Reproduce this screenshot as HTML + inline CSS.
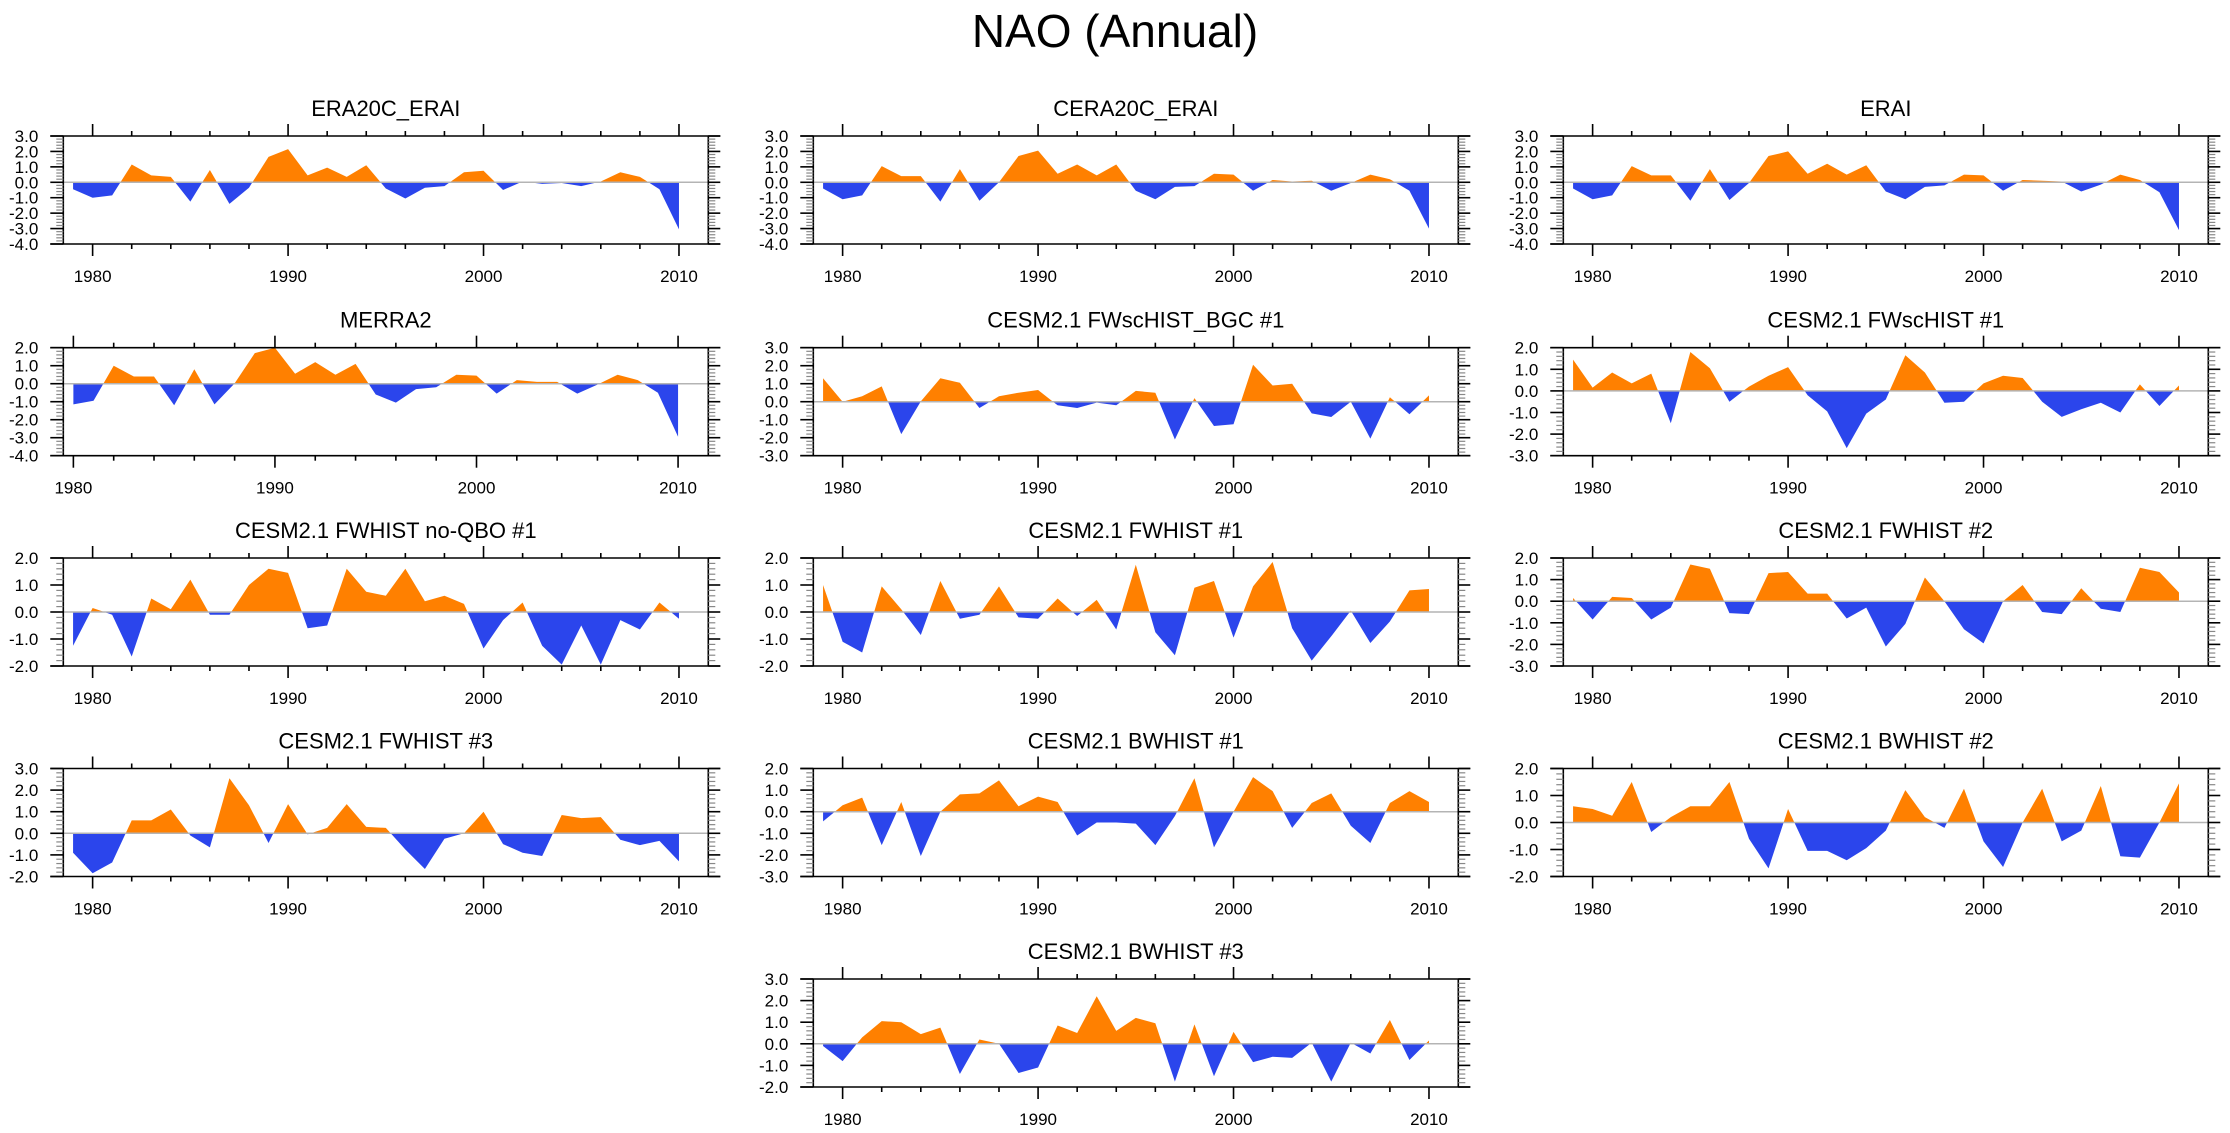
<!DOCTYPE html>
<html><head><meta charset="utf-8"><title>NAO (Annual)</title>
<style>
html,body{margin:0;padding:0;background:#fff;}
svg{display:block;font-family:"Liberation Sans",Arial,sans-serif;}
</style></head>
<body>
<svg id="chart" width="2230" height="1133" viewBox="0 0 2230 1133" xmlns="http://www.w3.org/2000/svg">
<rect x="0" y="0" width="2230" height="1133" fill="#fff"/>
<text x="1115" y="47" font-size="46" text-anchor="middle" fill="#000">NAO (Annual)</text>
</svg>
<script>
// ---- data ----
const xTickLabels = ["1980", "1990", "2000", "2010"];
const xTickYears = [1980, 1990, 2000, 2010];
const panelTitles = ["ERA20C_ERAI", "CERA20C_ERAI", "ERAI", "MERRA2", "CESM2.1 FWscHIST_BGC #1", "CESM2.1 FWscHIST #1", "CESM2.1 FWHIST no-QBO #1", "CESM2.1 FWHIST #1", "CESM2.1 FWHIST #2", "CESM2.1 FWHIST #3", "CESM2.1 BWHIST #1", "CESM2.1 BWHIST #2", "CESM2.1 BWHIST #3"];
const startYears = [1979, 1979, 1979, 1980, 1979, 1979, 1979, 1979, 1979, 1979, 1979, 1979, 1979];
const yMaxes = [3, 3, 3, 2, 3, 2, 2, 2, 2, 3, 2, 2, 3];
const yMins = [-4, -4, -4, -4, -3, -3, -2, -2, -3, -2, -3, -2, -2];
const era20cErai = [-0.45,-1.0,-0.85,1.15,0.45,0.35,-1.25,0.8,-1.4,-0.35,1.65,2.15,0.45,0.95,0.35,1.1,-0.4,-1.05,-0.35,-0.25,0.65,0.75,-0.5,0.05,-0.1,-0.05,-0.25,0.05,0.65,0.35,-0.45,-3.05];
const cera20cErai = [-0.4,-1.1,-0.85,1.05,0.4,0.4,-1.25,0.85,-1.2,0.0,1.7,2.05,0.55,1.15,0.45,1.15,-0.55,-1.1,-0.3,-0.25,0.55,0.5,-0.55,0.15,0.05,0.1,-0.55,-0.05,0.5,0.2,-0.55,-3.0];
const erai = [-0.4,-1.1,-0.85,1.05,0.45,0.45,-1.2,0.85,-1.15,-0.05,1.7,2.0,0.55,1.2,0.5,1.1,-0.6,-1.1,-0.3,-0.2,0.5,0.45,-0.55,0.15,0.1,0.05,-0.6,-0.15,0.5,0.15,-0.65,-3.1];
const merra2 = [-1.15,-0.95,1.0,0.4,0.4,-1.2,0.8,-1.15,0.02,1.7,2.0,0.55,1.2,0.5,1.1,-0.6,-1.05,-0.3,-0.2,0.5,0.45,-0.55,0.2,0.1,0.1,-0.55,-0.05,0.5,0.2,-0.5,-2.95];
const fwschistBgc1 = [1.3,0.0,0.3,0.85,-1.8,0.02,1.3,1.05,-0.35,0.3,0.5,0.65,-0.2,-0.35,-0.05,-0.2,0.6,0.5,-2.1,0.2,-1.35,-1.25,2.05,0.9,1.0,-0.65,-0.85,0.0,-2.05,0.25,-0.7,0.35];
const fwschist1 = [1.45,0.15,0.85,0.35,0.8,-1.5,1.8,1.05,-0.5,0.2,0.7,1.1,-0.2,-0.95,-2.65,-1.05,-0.4,1.65,0.85,-0.55,-0.5,0.35,0.7,0.6,-0.5,-1.2,-0.85,-0.55,-1.0,0.3,-0.7,0.25];
const fwhistNoQbo1 = [-1.25,0.15,-0.1,-1.65,0.5,0.1,1.2,-0.1,-0.1,1.0,1.6,1.45,-0.6,-0.5,1.6,0.75,0.6,1.6,0.4,0.6,0.3,-1.35,-0.3,0.35,-1.25,-1.95,-0.5,-1.95,-0.3,-0.65,0.35,-0.25];
const fwhist1 = [1.0,-1.1,-1.5,0.95,0.1,-0.85,1.15,-0.25,-0.1,0.95,-0.2,-0.25,0.5,-0.15,0.45,-0.65,1.75,-0.75,-1.6,0.9,1.15,-0.95,0.95,1.85,-0.6,-1.8,-0.9,0.05,-1.15,-0.35,0.8,0.85];
const fwhist2 = [0.15,-0.85,0.2,0.15,-0.85,-0.3,1.7,1.5,-0.55,-0.6,1.3,1.35,0.35,0.35,-0.8,-0.3,-2.1,-1.05,1.1,0.0,-1.3,-1.95,0.0,0.75,-0.5,-0.6,0.6,-0.35,-0.5,1.55,1.35,0.4];
const fwhist3 = [-0.9,-1.85,-1.35,0.6,0.6,1.1,-0.1,-0.65,2.55,1.3,-0.45,1.35,-0.05,0.25,1.35,0.3,0.25,-0.75,-1.65,-0.25,0.0,1.0,-0.5,-0.9,-1.05,0.85,0.7,0.75,-0.3,-0.55,-0.35,-1.3];
const bwhist1 = [-0.45,0.3,0.65,-1.55,0.45,-2.05,0.0,0.8,0.85,1.45,0.25,0.7,0.45,-1.1,-0.5,-0.5,-0.55,-1.55,-0.2,1.55,-1.65,0.0,1.6,0.95,-0.75,0.4,0.85,-0.65,-1.45,0.4,0.95,0.45];
const bwhist2 = [0.6,0.5,0.25,1.5,-0.35,0.2,0.6,0.6,1.5,-0.6,-1.7,0.5,-1.05,-1.05,-1.4,-0.95,-0.3,1.2,0.2,-0.2,1.25,-0.7,-1.65,0.0,1.25,-0.7,-0.3,1.35,-1.25,-1.3,0.0,1.45];
const bwhist3 = [-0.1,-0.8,0.3,1.05,1.0,0.45,0.75,-1.4,0.2,0.0,-1.35,-1.1,0.85,0.5,2.2,0.6,1.2,0.95,-1.75,0.9,-1.5,0.55,-0.85,-0.6,-0.65,0.05,-1.75,0.05,-0.45,1.1,-0.75,0.15];
const seriesList = [era20cErai, cera20cErai, erai, merra2, fwschistBgc1, fwschist1, fwhistNoQbo1, fwhist1, fwhist2, fwhist3, bwhist1, bwhist2, bwhist3];

// ---- layout (not data) ----
const panelCol = [0,1,2,0,1,2,0,1,2,0,1,2,1];
const panelRow = [0,0,0,1,1,1,2,2,2,3,3,3,4];
const colLeft = [63.3, 813.3, 1563.3];
const rowTop = [136, 347.7, 558, 768.5, 979];
const PW = 645, PH = 108;
const XMAX = 2011.5;
const NS = "http://www.w3.org/2000/svg";
const svg = document.getElementById("chart");

function mk(tag, attrs, parent) {
  const e = document.createElementNS(NS, tag);
  for (const k in attrs) e.setAttribute(k, attrs[k]);
  parent.appendChild(e);
  return e;
}
function slug(s){return s.toLowerCase().replace(/[^a-z0-9]+/g,'-').replace(/^-|-$/g,'');}

for (let p = 0; p < seriesList.length; p++) {
  const vals = seriesList[p];
  const L = colLeft[panelCol[p]], T = rowTop[panelRow[p]], R = L + PW, B = T + PH;
  const ymax = yMaxes[p], ymin = yMins[p];
  const xmin = startYears[p] - 0.5;
  const xs = yr => L + (yr - xmin) / (XMAX - xmin) * PW;
  const ys = v => T + (ymax - v) / (ymax - ymin) * PH;
  const g = mk("g", {}, svg);
  
  

  const title = mk("text", {x: L + PW/2, y: T - 20, "font-size": 22, "text-anchor": "middle", fill: "#000"}, g);
  
  
  title.textContent = panelTitles[p];

  // fills
  const pts = [];
  for (let i = 0; i < vals.length; i++) {
    const yr = startYears[p] + i;
    if (i > 0) {
      const a = vals[i-1], b = vals[i];
      if ((a > 0 && b < 0) || (a < 0 && b > 0)) {
        const t = a / (a - b);
        pts.push([yr - 1 + t, 0]);
      }
    }
    pts.push([yr, vals[i]]);
  }
  const x0 = pts[0][0], x1 = pts[pts.length-1][0];
  function poly(fn) {
    let d = "M" + xs(x0) + "," + ys(0);
    for (const q of pts) d += " L" + xs(q[0]).toFixed(2) + "," + ys(fn(q[1])).toFixed(2);
    d += " L" + xs(x1) + "," + ys(0) + " Z";
    return d;
  }
  const pos = mk("path", {d: poly(v => Math.max(v, 0)), fill: "#ff8000"}, g);
  
  
  const neg = mk("path", {d: poly(v => Math.min(v, 0)), fill: "#2b45ec"}, g);
  
  

  const zl = mk("line", {x1: L, x2: R, y1: ys(0), y2: ys(0), stroke: "#b4b4b4", "stroke-width": 1.5}, g);
  
  

  // frame
  const ax = mk("g", {stroke: "#000", "stroke-width": 1.6, fill: "none"}, g);
  
  
  mk("line", {x1: L-13, x2: R+12, y1: T, y2: T}, ax);
  mk("line", {x1: L-13, x2: R+12, y1: B, y2: B}, ax);
  mk("line", {x1: L, x2: L, y1: T, y2: B}, ax);
  mk("line", {x1: R, x2: R, y1: T, y2: B}, ax);

  // y ticks
  for (let k = Math.round(ymin*5); k <= Math.round(ymax*5); k++) {
    const v = k / 5, y = ys(v);
    if (k % 5 === 0) {
      mk("line", {x1: L-13, x2: L, y1: y, y2: y}, ax);
      mk("line", {x1: R, x2: R+12, y1: y, y2: y}, ax);
      const lab = mk("text", {x: L - 25, y: y + 6, "font-size": 17, "text-anchor": "end", fill: "#000", stroke: "none"}, g);
      
      
      lab.textContent = v.toFixed(1);
    } else {
      mk("line", {x1: L-7, x2: L, y1: y, y2: y, stroke: "#888", "stroke-width": 1.2}, ax);
      mk("line", {x1: R, x2: R+7, y1: y, y2: y, stroke: "#888", "stroke-width": 1.2}, ax);
    }
  }
  // x ticks
  for (let yr = 1980; yr <= 2010; yr += 2) {
    const x = xs(yr);
    const major = xTickYears.indexOf(yr) >= 0;
    const len = major ? 12 : 5;
    mk("line", {x1: x, x2: x, y1: T - len, y2: T}, ax);
    mk("line", {x1: x, x2: x, y1: B, y2: B + len}, ax);
  }
  for (let j = 0; j < xTickLabels.length; j++) {
    const lab = mk("text", {x: xs(xTickYears[j]), y: B + 38, "font-size": 17, "text-anchor": "middle", fill: "#000"}, g);
    
    
    lab.textContent = xTickLabels[j];
  }
}
</script>
</body></html>
